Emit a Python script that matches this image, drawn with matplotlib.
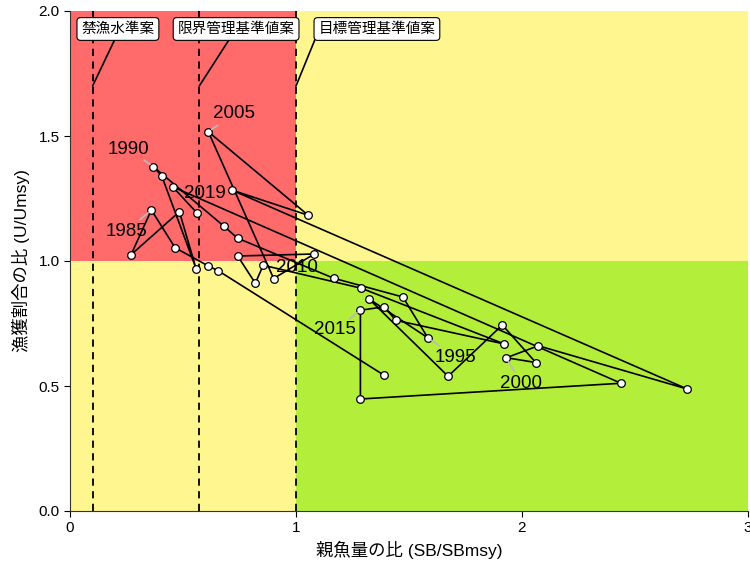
import matplotlib.pyplot as plt

plt.rcParams['font.family'] = ['Liberation Sans', 'Noto Sans CJK JP']

# 年ごとの親魚量の比と漁獲割合の比
years = list(range(1981, 2020))
sb_ratio = [1.388, 0.656, 0.612, 0.465, 0.360, 0.270, 0.484, 0.558, 0.406, 0.369,
            0.680, 0.742, 1.167, 1.473, 1.583, 1.322, 1.673, 1.913, 2.061, 1.931,
            2.072, 2.731, 0.715, 1.054, 0.612, 0.901, 1.081, 0.742, 0.820, 0.855,
            1.289, 1.922, 1.441, 1.391, 1.285, 1.285, 2.438, 0.454, 0.561]
u_ratio = [0.544, 0.961, 0.980, 1.053, 1.204, 1.025, 1.197, 0.969, 1.340, 1.377,
           1.140, 1.091, 0.931, 0.856, 0.693, 0.849, 0.539, 0.744, 0.594, 0.613,
           0.661, 0.488, 1.284, 1.183, 1.517, 0.930, 1.028, 1.020, 0.911, 0.983,
           0.891, 0.668, 0.763, 0.817, 0.803, 0.448, 0.511, 1.297, 1.193]

# ラベルを付ける年と表示位置
label_years = [1985, 1990, 1995, 2000, 2005, 2010, 2015, 2019]
label_x = [0.252, 0.257, 1.704, 1.996, 0.726, 1.004, 1.173, 0.597]
label_y = [1.120, 1.448, 0.616, 0.512, 1.588, 0.972, 0.724, 1.272]
label_leader = [True, True, True, True, True, False, True, False]

# 管理基準値案
ref_names = ['禁漁水準案', '限界管理基準値案', '目標管理基準値案']
ref_values = [0.1, 0.572, 1.0]
ref_label_x = [0.212, 0.735, 1.358]
ref_relpos = [(0.48, 0), (0.46, 0), (0, 0.35)]

fig = plt.figure(figsize=(7.5, 5.64), dpi=100)
ax = fig.add_axes([70 / 750, 1 - 511 / 564, 678 / 750, 500 / 564])
ax.set_xlim(0, 3)
ax.set_ylim(0, 2)

# 背景の色分け
ax.axvspan(0, 1, ymin=0.5, ymax=1, color='#FF6A6A', lw=0, zorder=0)
ax.axvspan(1, 3, ymin=0.5, ymax=1, color='#FFF68F', lw=0, zorder=0)
ax.axvspan(0, 1, ymin=0, ymax=0.5, color='#FFF68F', lw=0, zorder=0)
ax.axvspan(1, 3, ymin=0, ymax=0.5, color='#B3EE3A', lw=0, zorder=0)

for name, v, lx, rp in zip(ref_names, ref_values, ref_label_x, ref_relpos):
    ax.axvline(v, color='black', lw=1.3, ls=(0, (4, 3)), zorder=1)
    ax.annotate(name, xy=(v, 1.7), xytext=(lx, 1.928), ha='center', va='center',
                fontsize=10.5, family=['Noto Sans CJK JP'],
                bbox=dict(boxstyle='round,pad=0.3,rounding_size=0.25', fc='white', ec='black', lw=0.8),
                arrowprops=dict(arrowstyle='-', color='black', lw=1.2, shrinkA=0, shrinkB=0,
                                relpos=rp, patchA=None),
                zorder=5)

ax.plot(sb_ratio, u_ratio, color='black', lw=1.2, zorder=2)
ax.plot(sb_ratio, u_ratio, ls='none', marker='o', ms=5.5, mfc='white', mec='black', mew=0.9, zorder=3)

for yr, lx, ly, lead in zip(label_years, label_x, label_y, label_leader):
    i = years.index(yr)
    props = dict(arrowstyle='-', color='#BBBBBB', lw=1.2, shrinkA=0, shrinkB=3) if lead else None
    ax.annotate(str(yr), xy=(sb_ratio[i], u_ratio[i]), xytext=(lx, ly), ha='center', va='center',
                fontsize=13.5, arrowprops=props, zorder=4)

ax.set_xticks([0, 1, 2, 3])
ax.set_xticklabels(['0', '1', '2', '3'])
ax.set_yticks([0, 0.5, 1.0, 1.5, 2.0])
ax.set_yticklabels(['0.0', '0.5', '1.0', '1.5', '2.0'])
ax.tick_params(labelsize=11, length=4, colors='black')
for s in ['top', 'right']:
    ax.spines[s].set_visible(False)
ax.spines['left'].set_color('#333333')
ax.spines['bottom'].set_color('#333333')
ax.set_xlabel('親魚量の比 (SB/SBmsy)', fontsize=12.5, labelpad=4)
ax.set_ylabel('漁獲割合の比 (U/Umsy)', fontsize=12.5, labelpad=6)

fig.savefig('out.png', dpi=100)
